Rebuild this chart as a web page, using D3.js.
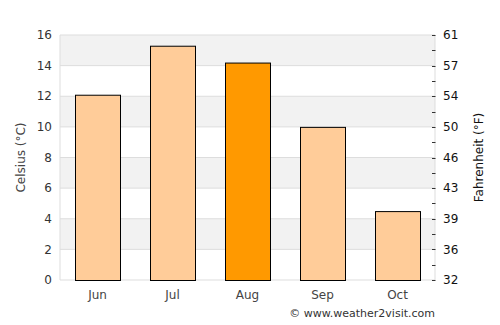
<!DOCTYPE html>
<meta charset="utf-8">
<style>
    body { margin: 0; background: #fff; }
    text { font-family: "DejaVu Sans", sans-serif; }
</style>
<body>
<script src="https://cdn.jsdelivr.net/npm/d3@7"></script>
<script>
    // chart data
    var months = ["Jun", "Jul", "Aug", "Sep", "Oct"];
    var celsius = [12.1, 15.3, 14.2, 10.0, 4.5];
    var highlightMonth = "Aug";
    var celsiusTicks = [0, 2, 4, 6, 8, 10, 12, 14, 16];
    var fahrenheitTicks = [32, 36, 39, 43, 46, 50, 54, 57, 61];
    var minorTicks = [1, 3, 5, 7, 9, 11, 13, 15];

    var margin = { top: 35, right: 65, bottom: 45, left: 60 },
        width = 500 - margin.left - margin.right,
        height = 325 - margin.top - margin.bottom;

    var x = d3.scaleBand().domain(months).range([0, width]).paddingInner(0.4).paddingOuter(0.2);
    var y = d3.scaleLinear().domain([0, 16]).range([height, 0]);

    var svg = d3.select("body").append("svg")
        .attr("width", 500).attr("height", 325)
        .append("g")
        .attr("transform", "translate(" + margin.left + "," + margin.top + ")");

    // alternating bands
    svg.selectAll(".band")
        .data(celsiusTicks.slice(0, -1))
        .enter().append("rect")
        .attr("x", 0)
        .attr("width", width)
        .attr("y", function (d) { return y(d + 2); })
        .attr("height", function (d) { return y(d) - y(d + 2); })
        .attr("fill", function (d, i) { return i % 2 == 1 ? "#f2f2f2" : "#fff"; });

    // grid lines
    svg.selectAll(".grid")
        .data(celsiusTicks)
        .enter().append("line")
        .attr("x1", 0).attr("x2", width)
        .attr("y1", function (d) { return y(d); })
        .attr("y2", function (d) { return y(d); })
        .attr("stroke", "#dddddd");

    // side borders
    svg.append("line").attr("x1", 0).attr("x2", 0).attr("y1", 0).attr("y2", height).attr("stroke", "#dddddd");
    svg.append("line").attr("x1", width).attr("x2", width).attr("y1", 0).attr("y2", height).attr("stroke", "#dddddd");

    // bars
    svg.selectAll(".bar")
        .data(months)
        .enter().append("rect")
        .attr("x", function (d) { return x(d) + 0.5; })
        .attr("width", x.bandwidth())
        .attr("y", function (d, i) { return y(celsius[i]) + 0.5; })
        .attr("height", function (d, i) { return height - y(celsius[i]); })
        .attr("fill", function (d) { return d == highlightMonth ? "#ff9900" : "#ffcc99"; })
        .attr("stroke", "#000")
        .attr("stroke-width", 1);

    // left axis labels
    svg.selectAll(".ylab")
        .data(celsiusTicks)
        .enter().append("text")
        .attr("x", -8)
        .attr("y", function (d) { return y(d); })
        .attr("dy", "0.35em")
        .attr("text-anchor", "end")
        .attr("font-size", "12px")
        .attr("fill", "#333")
        .text(function (d) { return d; });

    // right axis ticks + labels
    svg.selectAll(".ftick")
        .data(celsiusTicks.concat(minorTicks))
        .enter().append("line")
        .attr("x1", width - 3).attr("x2", width + 0.5)
        .attr("y1", function (d) { return Math.round(y(d)) + 0.5; })
        .attr("y2", function (d) { return Math.round(y(d)) + 0.5; })
        .attr("stroke", "#333");

    svg.selectAll(".flab")
        .data(fahrenheitTicks)
        .enter().append("text")
        .attr("x", width + 8)
        .attr("y", function (d, i) { return y(celsiusTicks[i]); })
        .attr("dy", "0.35em")
        .attr("font-size", "12px")
        .attr("fill", "#111")
        .text(function (d) { return d; });

    // x labels
    svg.selectAll(".xlab")
        .data(months)
        .enter().append("text")
        .attr("x", function (d) { return x(d) + x.bandwidth() / 2; })
        .attr("y", height + 19)
        .attr("text-anchor", "middle")
        .attr("font-size", "12px")
        .attr("fill", "#444")
        .text(function (d) { return d; });

    // axis titles
    svg.append("text")
        .attr("transform", "translate(-35," + height / 2 + ") rotate(-90)")
        .attr("text-anchor", "middle")
        .attr("font-size", "12px")
        .attr("fill", "#444")
        .text("Celsius (°C)");

    svg.append("text")
        .attr("transform", "translate(" + (width + 48) + "," + height / 2 + ") rotate(-90)")
        .attr("text-anchor", "middle")
        .attr("font-size", "12px")
        .attr("fill", "#111")
        .text("Fahrenheit (°F)");

    svg.append("text")
        .attr("x", width)
        .attr("y", height + 37)
        .attr("text-anchor", "end")
        .attr("font-size", "11px")
        .attr("fill", "#333")
        .text("© www.weather2visit.com");
</script>
</body>
